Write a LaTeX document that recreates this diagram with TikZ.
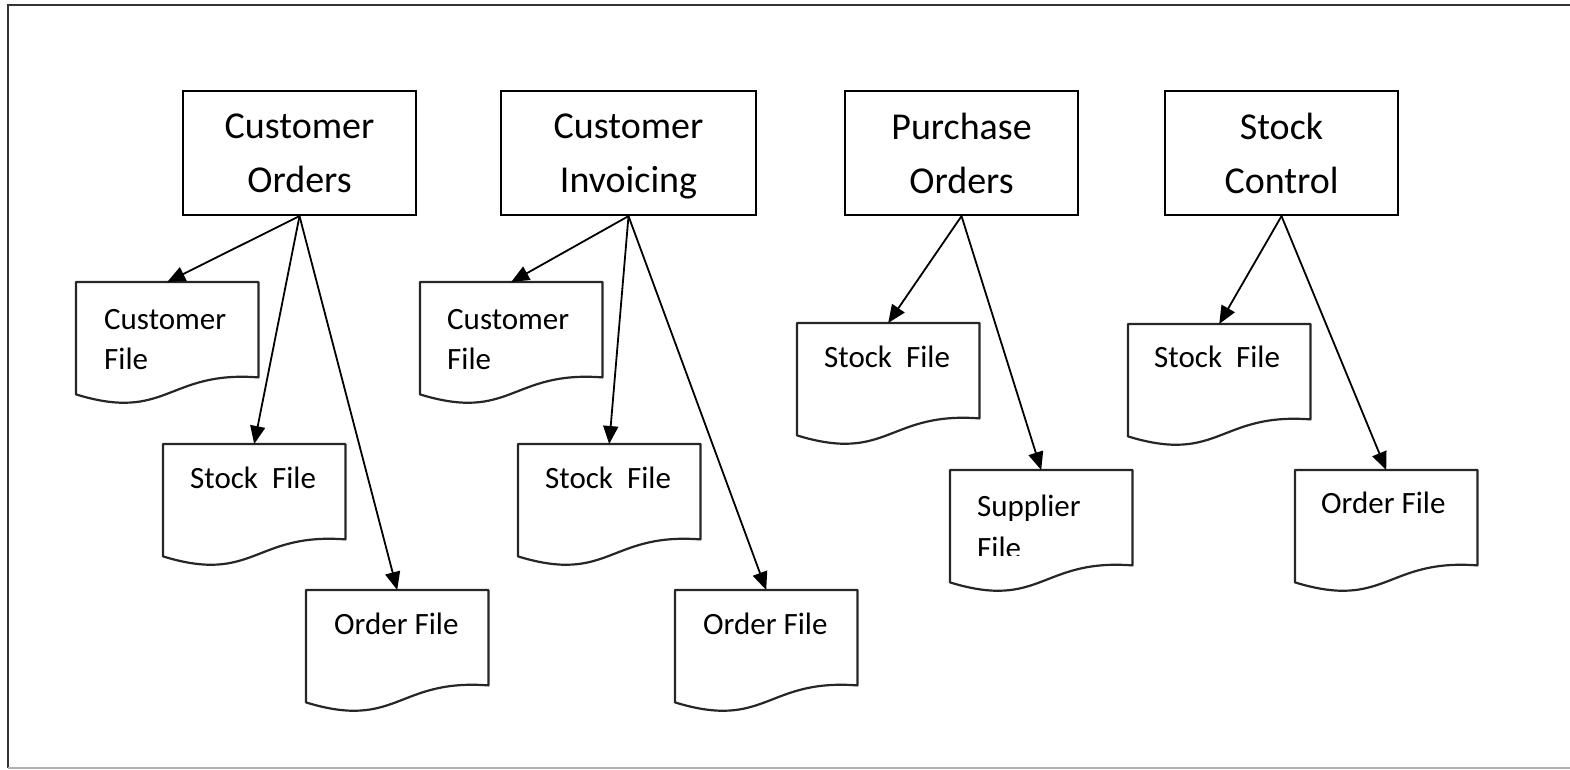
\documentclass[tikz,border=0pt]{standalone}
\usepackage{fontspec}
\setmainfont{Carlito}
\usetikzlibrary{arrows.meta}

\tikzset{
  procbox/.style={rectangle, draw=black, line width=2.2pt, inner sep=0pt,
    align=center, text depth=-6pt, font=\fontsize{38}{54}\selectfont},
  docbox/.style={rectangle, draw=none, inner sep=0pt, minimum width=182pt,
    minimum height=95pt, anchor=north west},
  docline/.style={draw=black!85, line width=2.2pt, line join=round},
  doctext/.style={inner sep=0pt, align=left, anchor=west,
    font=\fontsize{31}{40}\selectfont},
  flow/.style={line width=1.8pt, -{Triangle[length=18pt,width=15pt]}},
  frame/.style={line width=2pt, draw=black!80},
}

% outline of a flowchart "document" symbol around a docbox node
\newcommand\docoutline[1]{%
  \draw[docline] (#1.north west) -- (#1.north east) -- (#1.south east)
    .. controls ([yshift=7pt]#1.south) and ([yshift=-45pt]#1.south)
    .. ([yshift=-17pt]#1.south west) -- cycle;}

\begin{document}
\begin{tikzpicture}[x=1pt, y=-1pt]
  \useasboundingbox (0,0) rectangle (1570,769);

  % page frame
  \draw[frame] (1580,5) -- (7.5,5) -- (7.5,768);
  \draw[draw=black!30, line width=1.5pt] (7.5,768) -- (1580,768);

  % processes
  \node[procbox, minimum width=233pt, minimum height=124pt] (co) at (299.5,153) {Customer\\Orders};
  \node[procbox, minimum width=255pt, minimum height=124pt] (ci) at (628.5,153) {Customer\\Invoicing};
  \node[procbox, minimum width=233pt, minimum height=124pt] (po) at (961.5,153) {Purchase\\Orders};
  \node[procbox, minimum width=233pt, minimum height=124pt] (sc) at (1281.5,153) {Stock\\Control};

  % files of Customer Orders
  \node[docbox] (cocust) at (76,282) {};
  \node[docbox] (costock) at (163,444) {};
  \node[docbox] (coorder) at (306,590) {};
  % files of Customer Invoicing
  \node[docbox] (cicust) at (420,282) {};
  \node[docbox] (cistock) at (518,444) {};
  \node[docbox] (ciorder) at (675,590) {};
  % files of Purchase Orders
  \node[docbox] (postock) at (797,323) {};
  \node[docbox] (posupp) at (950,470) {};
  % files of Stock Control
  \node[docbox] (scstock) at (1128,324) {};
  \node[docbox] (scorder) at (1295,470) {};

  \foreach \d in {cocust,costock,coorder,cicust,cistock,ciorder,postock,posupp,scstock,scorder}
    {\docoutline{\d}}

  % file labels
  \node[doctext] (cocustt) at ([xshift=28pt, yshift=-58pt]cocust.north west) {Customer\\File};
  \node[doctext] (costockt) at ([xshift=27pt, yshift=-34pt]costock.north west) {Stock~~File};
  \node[doctext] (coordert) at ([xshift=28pt, yshift=-34pt]coorder.north west) {Order File};
  \node[doctext] (cicustt) at ([xshift=27pt, yshift=-58pt]cicust.north west) {Customer\\File};
  \node[doctext] (cistockt) at ([xshift=27pt, yshift=-34pt]cistock.north west) {Stock~~File};
  \node[doctext] (ciordert) at ([xshift=28pt, yshift=-34pt]ciorder.north west) {Order File};
  \node[doctext] (postockt) at ([xshift=27pt, yshift=-34pt]postock.north west) {Stock~~File};
  \begin{scope}
    \clip (940,470) rectangle (1140,555);
    \node[doctext, font=\fontsize{31}{42}\selectfont] (posuppt)
      at ([xshift=27pt, yshift=-57pt]posupp.north west) {Supplier\\File};
  \end{scope}
  \node[doctext] (scstockt) at ([xshift=26pt, yshift=-33pt]scstock.north west) {Stock~~File};
  \node[doctext] (scordert) at ([xshift=26pt, yshift=-33pt]scorder.north west) {Order File};

  % data flows
  \draw[flow] (co.south) -- (cocust.north);
  \draw[flow] (co.south) -- (costock.north);
  \draw[flow] (co.south) -- (coorder.north);
  \draw[flow] (ci.south) -- (cicust.north);
  \draw[flow] (ci.south) -- (cistock.north);
  \draw[flow] (ci.south) -- (ciorder.north);
  \draw[flow] (po.south) -- (postock.north);
  \draw[flow] (po.south) -- (posupp.north);
  \draw[flow] (sc.south) -- (scstock.north);
  \draw[flow] (sc.south) -- (scorder.north);
\end{tikzpicture}
\end{document}
